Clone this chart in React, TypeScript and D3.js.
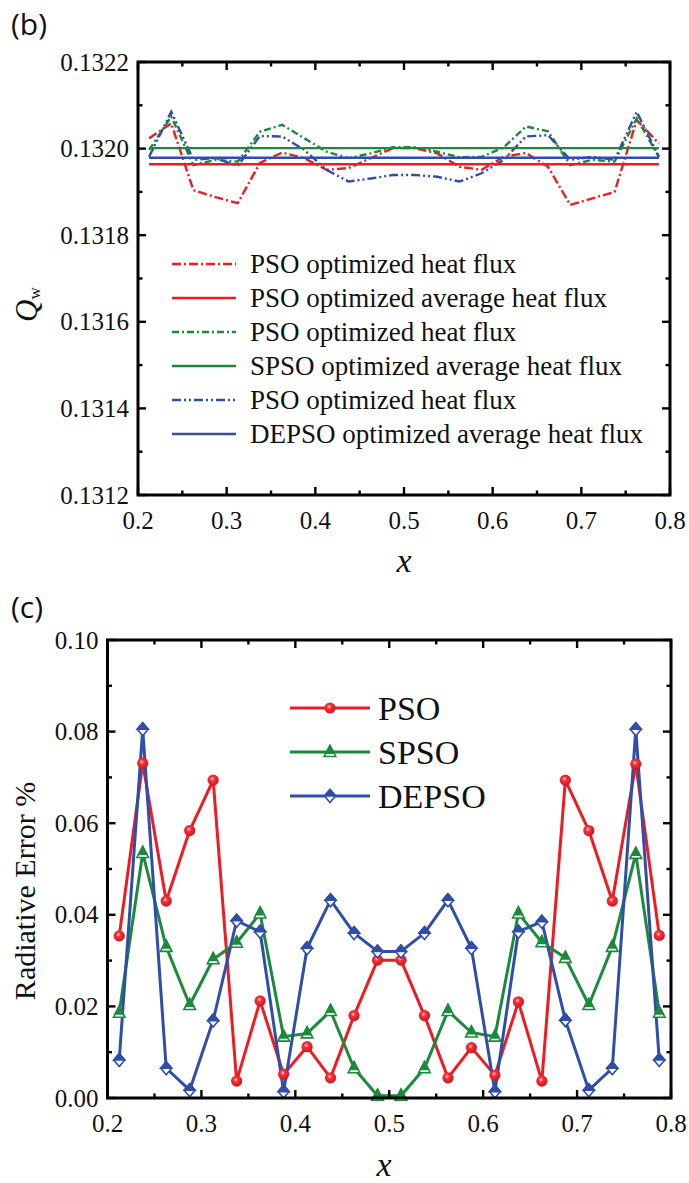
import React from 'react';
import * as d3 from 'd3';

// ---------- data ----------
const xPts = [0.2125, 0.2375, 0.2625, 0.2875, 0.3125, 0.3375, 0.3625, 0.3875, 0.4125, 0.4375, 0.4625, 0.4875,
  0.5125, 0.5375, 0.5625, 0.5875, 0.6125, 0.6375, 0.6625, 0.6875, 0.7125, 0.7375, 0.7625, 0.7875];

const psoFlux = [0.132024, 0.132058, 0.131904, 0.131888, 0.131874, 0.131967, 0.131991, 0.131978, 0.131951, 0.131955, 0.131978, 0.132001,
  0.132001, 0.131989, 0.131958, 0.131951, 0.131981, 0.13199, 0.131958, 0.13187, 0.131885, 0.1319, 0.132066, 0.132012];
const spsoFlux = [0.131997, 0.132074, 0.131962, 0.131974, 0.13197, 0.132039, 0.132055, 0.132024, 0.131993, 0.131978, 0.131989, 0.132003,
  0.132003, 0.131993, 0.13198, 0.131981, 0.132003, 0.132051, 0.13204, 0.131962, 0.131974, 0.13197, 0.13207, 0.131981];
const depsoFlux = [0.131981, 0.132085, 0.131974, 0.131978, 0.13196, 0.132029, 0.132028, 0.131997, 0.131951, 0.131924, 0.131931, 0.131939,
  0.131939, 0.131935, 0.131924, 0.131943, 0.131974, 0.132028, 0.132031, 0.131974, 0.131981, 0.131974, 0.132085, 0.131981];
const averages = [0.131964, 0.132001, 0.131979]; // PSO, SPSO, DEPSO

const psoErr = [0.0354, 0.0731, 0.043, 0.0584, 0.0694, 0.0037, 0.0212, 0.0052, 0.0112, 0.0044, 0.018, 0.0301,
  0.0301, 0.018, 0.0044, 0.011, 0.005, 0.021, 0.0037, 0.0694, 0.0584, 0.043, 0.0729, 0.0355];
const spsoErr = [0.0186, 0.0535, 0.033, 0.0203, 0.0303, 0.0339, 0.0403, 0.0134, 0.0141, 0.019, 0.0065, 0.0005,
  0.0005, 0.0065, 0.019, 0.0143, 0.0134, 0.0403, 0.034, 0.0306, 0.0203, 0.033, 0.0533, 0.0186];
const depsoErr = [0.0083, 0.0805, 0.0065, 0.0017, 0.0169, 0.0387, 0.0363, 0.0014, 0.0327, 0.0432, 0.036, 0.032,
  0.032, 0.036, 0.0432, 0.0327, 0.0014, 0.0363, 0.0385, 0.017, 0.0017, 0.0065, 0.0805, 0.0083];

const topLegend = [
  'PSO optimized heat flux',
  'PSO optimized average heat flux',
  'PSO optimized heat flux',
  'SPSO optimized average heat flux',
  'PSO optimized heat flux',
  'DEPSO optimized average heat flux',
];
const bottomLegend = ['PSO', 'SPSO', 'DEPSO'];

// ---------- style ----------
const RED = '#ED1C24';
const GREEN = '#1B8A3C';
const BLUE = '#2F4EA8';
const SERIF = "'Liberation Serif', 'Tinos', 'Times New Roman', 'Times', 'DejaVu Serif', serif";
const SANS = "'Open Sans', 'Noto Sans', sans-serif";

const xTop = d3.scaleLinear().domain([0.2, 0.8]).range([138, 670]);
const yTop = d3.scaleLinear().domain([0.1312, 0.1322]).range([495, 62]);
const xBot = d3.scaleLinear().domain([0.2, 0.8]).range([107.5, 671]);
const yBot = d3.scaleLinear().domain([0, 0.1]).range([1098, 640]);

function Frame({ xs, ys, xMajor, xMinor, yMajor, yMinor, xFmt, yFmt, fs }: any) {
  const [x0, x1] = xs.range();
  const [y0, y1] = ys.range();
  const maj = 8, min = 4.5;
  const sw = 2.4;
  const ticks: any[] = [];
  xMinor.forEach((t: number, i: number) => {
    const isMaj = xMajor.some((m: number) => Math.abs(m - t) < 1e-9);
    const L = isMaj ? maj : min;
    const x = xs(t);
    ticks.push(<line key={'xb' + i} x1={x} x2={x} y1={y0} y2={y0 - L} />);
    ticks.push(<line key={'xt' + i} x1={x} x2={x} y1={y1} y2={y1 + L} />);
  });
  yMinor.forEach((t: number, i: number) => {
    const isMaj = yMajor.some((m: number) => Math.abs(m - t) < 1e-12);
    const L = isMaj ? maj : min;
    const y = ys(t);
    ticks.push(<line key={'yl' + i} x1={x0} x2={x0 + L} y1={y} y2={y} />);
    ticks.push(<line key={'yr' + i} x1={x1} x2={x1 - L} y1={y} y2={y} />);
  });
  return (
    <g>
      <g stroke="#000" strokeWidth={sw}>{ticks}</g>
      <rect x={x0} y={y1} width={x1 - x0} height={y0 - y1} fill="none" stroke="#000" strokeWidth={3} />
      <g style={{ fontFamily: SERIF }} fontSize={fs} fill="#111">
        {xMajor.map((t: number, i: number) => (
          <text key={'xl' + i} x={xs(t)} y={y0 + 34} textAnchor="middle">{xFmt(t)}</text>
        ))}
        {yMajor.map((t: number, i: number) => (
          <text key={'yl' + i} x={x0 - 9} y={ys(t) + 8.5} textAnchor="end">{yFmt(t)}</text>
        ))}
      </g>
    </g>
  );
}

function Circle({ x, y }: any) {
  return <circle cx={x} cy={y} r={5.6} fill="url(#sphere)" />;
}
function Tri({ x, y }: any) {
  return (
    <g transform={`translate(${x},${y})`}>
      <polygon points="0,-6.5 5.8,4.5 -5.8,4.5" fill="#fff" stroke={GREEN} strokeWidth={1.6} />
      <polygon points="0,-6.5 4.0,1.2 -4.0,1.2" fill={GREEN} stroke={GREEN} strokeWidth={1.6} />
    </g>
  );
}
function Dia({ x, y }: any) {
  return (
    <g transform={`translate(${x},${y})`}>
      <polygon points="0,-6.5 5.5,0 0,6.5 -5.5,0" fill="#fff" stroke={BLUE} strokeWidth={1.6} />
      <polygon points="0,-6.5 5.5,0 -5.5,0" fill={BLUE} stroke={BLUE} strokeWidth={1.6} />
    </g>
  );
}

export default function App() {
  const lineTop = (vals: number[]) =>
    d3.line<number>().x((_, i) => xTop(xPts[i])).y((v) => yTop(v))(vals) as string;
  const lineBot = (vals: number[]) =>
    d3.line<number>().x((_, i) => xBot(xPts[i])).y((v) => yBot(v))(vals) as string;

  const dashes = ['9,3,2,3', '', '7,3,2,3', '', '9,3,2,3,2,3', ''];
  const topColors = [RED, RED, GREEN, GREEN, BLUE, BLUE];
  const fluxSeries = [psoFlux, spsoFlux, depsoFlux];
  const xFirst = xPts[0], xLast = xPts[xPts.length - 1];

  const botSeries = [
    { vals: psoErr, color: RED, M: Circle },
    { vals: spsoErr, color: GREEN, M: Tri },
    { vals: depsoErr, color: BLUE, M: Dia },
  ];

  return (
    <svg width={689} height={1183} style={{ position: 'absolute', left: 0, top: 0, background: '#fff' }}>
      <defs>
        <radialGradient id="sphere" cx="0.42" cy="0.38" r="0.65">
          <stop offset="0" stopColor="#ffd9d9" />
          <stop offset="0.3" stopColor="#f5333a" />
          <stop offset="1" stopColor="#d0101a" />
        </radialGradient>
      </defs>
      <rect x={0} y={0} width={689} height={1183} fill="#fff" />

      {/* ---------- (b) ---------- */}
      <text x={11} y={35} style={{ fontFamily: SANS }} fontSize={30} fill="#111">(b)</text>
      <g fill="none" strokeWidth={2.4}>
        {fluxSeries.map((s, k) => (
          <path key={'f' + k} d={lineTop(s)} stroke={topColors[k * 2]} strokeDasharray={dashes[k * 2]} />
        ))}
        {averages.map((a, k) => (
          <line key={'a' + k} x1={xTop(xFirst)} x2={xTop(xLast)} y1={yTop(a)} y2={yTop(a)} stroke={topColors[k * 2 + 1]} />
        ))}
      </g>
      <Frame xs={xTop} ys={yTop} xMajor={xTop.ticks(6)} xMinor={xTop.ticks(12)}
        yMajor={yTop.ticks(5)} yMinor={yTop.ticks(10)}
        xFmt={d3.format('.1f')} yFmt={d3.format('.4f')} fs={25} />
      <g style={{ fontFamily: SERIF }} fontSize={27} fill="#111">
        {topLegend.map((t, i) => {
          const yb = 273 + i * 34;
          return (
            <g key={'tl' + i}>
              <line x1={172} x2={236} y1={yb - 9} y2={yb - 9} stroke={topColors[i]} strokeWidth={2.4}
                strokeDasharray={dashes[i]} />
              <text x={250} y={yb}>{t}</text>
            </g>
          );
        })}
      </g>
      <text x={404} y={572} textAnchor="middle" style={{ fontFamily: SERIF }} fontStyle="italic" fontSize={34} fill="#111">x</text>
      <text transform="translate(37,322) rotate(-90)" style={{ fontFamily: SERIF }} fill="#111">
        <tspan fontStyle="italic" fontSize={31}>Q</tspan>
        <tspan fontSize={17} dy={3}>w</tspan>
      </text>

      {/* ---------- (c) ---------- */}
      <text x={11} y={618} style={{ fontFamily: SANS }} fontSize={30} fill="#111">(c)</text>
      <g fill="none" strokeWidth={3} strokeLinejoin="round">
        {botSeries.map((s, k) => (
          <path key={'b' + k} d={lineBot(s.vals)} stroke={s.color} />
        ))}
      </g>
      {botSeries.map((s, k) => (
        <g key={'m' + k}>
          {s.vals.map((v, i) => <s.M key={i} x={xBot(xPts[i])} y={yBot(v)} />)}
        </g>
      ))}
      <Frame xs={xBot} ys={yBot} xMajor={xBot.ticks(6)} xMinor={xBot.ticks(12)}
        yMajor={yBot.ticks(5)} yMinor={yBot.ticks(10)}
        xFmt={d3.format('.1f')} yFmt={d3.format('.2f')} fs={25} />
      <g style={{ fontFamily: SERIF }} fontSize={34} fill="#111">
        {bottomLegend.map((t, i) => {
          const cy = 708 + i * 44;
          const S = botSeries[i];
          return (
            <g key={'bl' + i}>
              <line x1={290} x2={370} y1={cy} y2={cy} stroke={S.color} strokeWidth={3} />
              <S.M x={330} y={cy} />
              <text x={378} y={cy + 12}>{t}</text>
            </g>
          );
        })}
      </g>
      <text x={384} y={1176} textAnchor="middle" style={{ fontFamily: SERIF }} fontStyle="italic" fontSize={34} fill="#111">x</text>
      <text transform="translate(35,891) rotate(-90)" textAnchor="middle" style={{ fontFamily: SERIF }} fontSize={30} fill="#111">Radiative Error %</text>
    </svg>
  );
}
